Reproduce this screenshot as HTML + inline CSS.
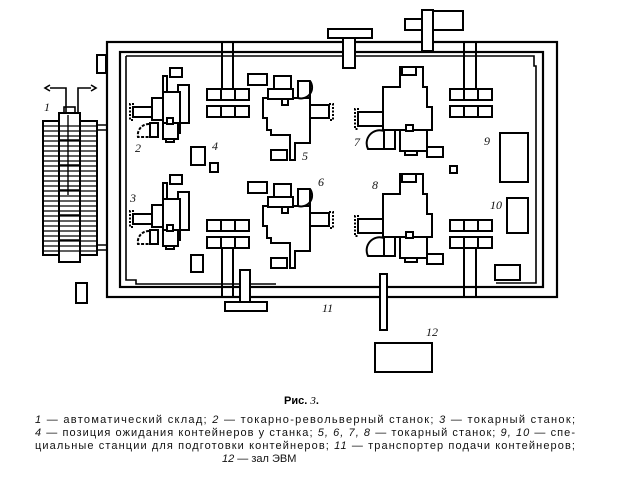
<!DOCTYPE html>
<html><head><meta charset="utf-8"><style>
body{margin:0;background:#fff;width:621px;height:480px;overflow:hidden}
svg{display:block}
.c{font-family:"Liberation Sans",sans-serif;font-size:11px;fill:#111}
.n{font-family:"Liberation Serif",serif;font-style:italic;font-size:12px;fill:#111}
</style></head><body>
<svg width="621" height="480" viewBox="0 0 621 480" xmlns="http://www.w3.org/2000/svg">
<defs>
<g id="m23" fill="#fff" stroke="#000" stroke-width="2">
  <rect x="170" y="68" width="12" height="9"/>
  <rect x="163" y="76" width="4" height="18"/>
  <rect x="178" y="85" width="11" height="38"/>
  <rect x="163" y="92" width="17" height="41"/>
  <rect x="152" y="98" width="11" height="22"/>
  <rect x="133" y="107" width="19" height="10"/>
  <path d="M134 104h-4v16h4" fill="none" stroke-dasharray="2 1.5"/>
  <rect x="163" y="123" width="15" height="16"/>
  <rect x="167" y="118" width="6" height="6"/>
  <rect x="166" y="139" width="8" height="3"/>
  <rect x="150" y="123" width="8" height="14"/>
  <path d="M149 124a11 11 0 0 0 -11 13h11" fill="none" stroke-dasharray="3 1.5"/>
</g>
<g id="m56" fill="#fff" stroke="#000" stroke-width="2">
  <path d="M263 98h47v45h-15v17h-5v-25h-19v-5h-4v-12h-4z"/>
  <rect x="268" y="89" width="25" height="10"/>
  <rect x="274" y="76" width="17" height="13"/>
  <rect x="282" y="99" width="6" height="6"/>
  <path d="M298 98v-17h12a11 11 0 0 1 -12 17z"/>
  <line x1="310" y1="81" x2="310" y2="98"/>
  <rect x="310" y="105" width="19" height="13"/>
  <path d="M329 104h4v16h-4" fill="none" stroke-dasharray="2 1.5"/>
  <rect x="271" y="150" width="16" height="10"/>
  <rect x="248" y="74" width="19" height="11"/>
</g>
<g id="m78" fill="#fff" stroke="#000" stroke-width="2">
  <path d="M383 87h17v-20h23v20h4v20h5v23h-49z"/>
  <rect x="402" y="67" width="14" height="8"/>
  <rect x="358" y="112" width="25" height="14"/>
  <path d="M359 109h-4v20h4" fill="none" stroke-dasharray="2 1.5"/>
  <rect x="400" y="130" width="27" height="21"/>
  <rect x="406" y="125" width="7" height="6"/>
  <rect x="405" y="151" width="12" height="4"/>
  <rect x="384" y="130" width="11" height="19"/>
  <path d="M384 131a13 13 0 0 0 -16 18h16" fill="none"/>
  <rect x="427" y="147" width="16" height="10"/>
</g>
<g id="pal" fill="#fff" stroke="#000" stroke-width="2">
  <rect x="0" y="0" width="14" height="11"/><rect x="14" y="0" width="14" height="11"/><rect x="28" y="0" width="14" height="11"/>
  <rect x="0" y="17" width="14" height="11"/><rect x="14" y="17" width="14" height="11"/><rect x="28" y="17" width="14" height="11"/>
</g>
</defs>
<g fill="none" stroke="#000" stroke-width="2.2">
  <rect x="107" y="42" width="450" height="255"/>
  <rect x="120" y="52" width="423" height="235"/>
  <path d="M126 56h408v10h2v217h-40 M126 56v224h10v4h140" stroke-width="1.6"/>
  <!-- storage -->
  <rect x="43" y="121" width="54" height="134" stroke-width="2"/>
  <rect x="59" y="113" width="21" height="149" fill="#fff" stroke-width="2"/>
  <rect x="64" y="107" width="11" height="6" stroke-width="1.6"/>
  <path d="M43 121" />
  <path d="M97 125h10 M97 130h10 M97 245h10 M97 250h10" stroke-width="1.6"/>
  <path d="M66 112V88H50 M78 112V88H91" stroke-width="1.6"/>
  <path d="M50 85l-5 3l5 3 M91 85l5 3l-5 3" stroke-width="1.6"/>
  <path d="M68 115v80" stroke-width="1.4"/>
  <path d="M69 140h11 M69 165h11 M69 190h11 M69 215h11 M69 240h11 M59 140h10 M59 165h10 M59 190h10 M59 215h10 M59 240h10" stroke-width="1.4"/>
  <!-- rails -->
  <path d="M222 42v46 M233 42v46 M222 248v49 M233 248v49 M464 42v46 M476 42v46 M464 248v49 M476 248v49" stroke-width="2"/>
</g>
<g stroke="#000" stroke-width="1.2">
  <path d="M43 126h54 M43 131h54 M43 136h54 M43 141h54 M43 146h54 M43 151h54 M43 156h54 M43 161h54 M43 166h54 M43 171h54 M43 176h54 M43 181h54 M43 186h54 M43 191h54 M43 196h54 M43 201h54 M43 206h54 M43 211h54 M43 216h54 M43 221h54 M43 226h54 M43 231h54 M43 236h54 M43 241h54 M43 246h54 M43 251h54"/>
</g>
<rect x="59" y="113" width="21" height="149" fill="none" stroke="#000" stroke-width="2"/>
<g fill="#fff" stroke="#000" stroke-width="2">
  <rect x="97" y="55" width="9" height="18"/>
  <rect x="76" y="283" width="11" height="20"/>
  <rect x="191" y="147" width="14" height="18"/>
  <rect x="210" y="163" width="8" height="9"/>
  <rect x="191" y="255" width="12" height="17"/>
  <rect x="248" y="182" width="19" height="11"/>
  <rect x="450" y="166" width="7" height="7"/>
  <rect x="500" y="133" width="28" height="49"/>
  <rect x="507" y="198" width="21" height="35"/>
  <rect x="495" y="265" width="25" height="15"/>
  <!-- top T structures -->
  <rect x="328" y="29" width="44" height="9"/>
  <rect x="343" y="38" width="12" height="30"/>
  <rect x="405" y="19" width="58" height="11"/>
  <rect x="422" y="10" width="11" height="41"/>
  <rect x="433" y="11" width="30" height="19"/>
  <!-- bottom -->
  <rect x="240" y="270" width="10" height="33"/>
  <rect x="225" y="302" width="42" height="9"/>
  <rect x="380" y="274" width="7" height="56"/>
  <rect x="375" y="343" width="57" height="29"/>
</g>
<use href="#pal" x="207" y="89"/>
<use href="#pal" x="207" y="220"/>
<use href="#pal" x="450" y="89"/>
<use href="#pal" x="450" y="220"/>
<use href="#m23"/>
<use href="#m23" y="107"/>
<use href="#m56"/>
<use href="#m56" y="108"/>
<use href="#m78"/>
<use href="#m78" y="107"/>
<g class="n">
<text x="44" y="111">1</text><text x="135" y="152">2</text><text x="130" y="202">3</text>
<text x="212" y="150">4</text><text x="302" y="160">5</text><text x="318" y="186">6</text>
<text x="354" y="146">7</text><text x="372" y="189">8</text><text x="484" y="145">9</text>
<text x="490" y="209">10</text><text x="322" y="312">11</text><text x="426" y="336">12</text>
</g>
<text x="284" y="404" style="font-family:'Liberation Sans',sans-serif;font-size:11px;font-weight:bold">Рис. <tspan font-weight="normal" font-style="italic" font-family="Liberation Serif">3</tspan>.</text>
<g class="c">
<text x="35" y="423" textLength="540" lengthAdjust="spacing"><tspan font-style="italic">1</tspan> — автоматический  склад;  <tspan font-style="italic">2</tspan> — токарно-револьверный  станок;  <tspan font-style="italic">3</tspan> — токарный  станок;</text>
<text x="35" y="436" textLength="540" lengthAdjust="spacing"><tspan font-style="italic">4</tspan> — позиция ожидания контейнеров у станка; <tspan font-style="italic">5, 6, 7, 8</tspan> — токарный станок; <tspan font-style="italic">9, 10</tspan> — спе-</text>
<text x="35" y="449" textLength="540" lengthAdjust="spacing">циальные станции для подготовки контейнеров; <tspan font-style="italic">11</tspan> — транспортер подачи контейнеров;</text>
<text x="222" y="462"><tspan font-style="italic">12</tspan> — зал ЭВМ</text>
</g>
</svg>
</body></html>
